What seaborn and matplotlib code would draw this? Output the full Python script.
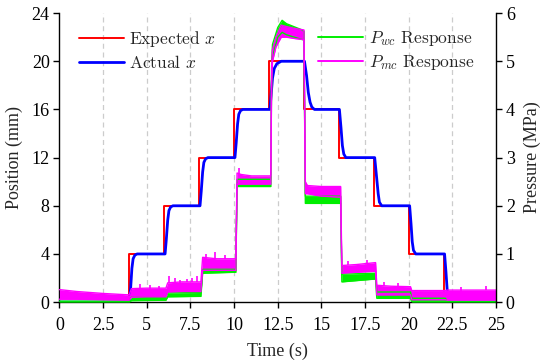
import matplotlib
matplotlib.use("Agg")
import matplotlib.pyplot as plt
import seaborn as sns
import pandas as pd
from matplotlib.lines import Line2D

# ---------------- data ----------------
exp_t = [0, 4, 6, 8, 10, 12, 14, 16, 18, 20, 22, 25]
exp_x = [0, 4, 8, 12, 16, 20, 16, 12, 8, 4, 0, 0]

act_t = [0, 4.0, 4.08, 4.15, 4.22, 4.32, 4.45,
         6.05, 6.12, 6.2, 6.27, 6.37, 6.5,
         8.05, 8.12, 8.2, 8.27, 8.37, 8.5,
         10.05, 10.12, 10.2, 10.27, 10.37, 10.5,
         12.05, 12.12, 12.2, 12.3, 12.45, 12.7,
         14.03, 14.15, 14.25, 14.35, 14.45, 14.6,
         16.03, 16.12, 16.2, 16.28, 16.4,
         18.05, 18.15, 18.25, 18.32, 18.45,
         20.05, 20.13, 20.2, 20.27, 20.4,
         22.05, 22.13, 22.2, 22.27, 22.4, 25]
act_x = [0, 0, 1.2, 2.8, 3.6, 3.9, 4,
         4, 5.2, 6.8, 7.6, 7.9, 8,
         8, 9.2, 10.8, 11.6, 11.9, 12,
         12, 13.2, 14.8, 15.6, 15.9, 16,
         16, 17.2, 18.6, 19.4, 19.8, 20,
         20, 18.8, 17.4, 16.6, 16.2, 16,
         16, 14.5, 13.0, 12.3, 12,
         12, 10.5, 9.0, 8.3, 8,
         8, 6.5, 5.0, 4.3, 4,
         4, 2.5, 1.0, 0.3, 0, 0]

# P_mc response envelope (MPa)
pmc_t = [0.0, 1.0, 2.5, 4.0, 4.12, 5.0, 6.1, 6.2, 7.0, 8.1, 8.2, 9.0, 10.1,
         10.17, 10.4, 11.0, 12.1, 12.15, 12.2, 12.4, 12.7, 13.0, 13.5, 14.0,
         14.08, 14.2, 15.0, 16.1, 16.17, 17.0, 18.1, 18.17, 19.0, 20.1, 20.17,
         21.0, 22.1, 22.2, 25.0]
pmc_lo = [0.06, 0.06, 0.05, 0.04, 0.10, 0.11, 0.11, 0.21, 0.22, 0.22, 0.66, 0.66, 0.66,
          2.45, 2.45, 2.45, 2.45, 4.60, 5.00, 5.30, 5.50, 5.50, 5.47, 5.45,
          2.25, 2.25, 2.20, 2.18, 0.60, 0.62, 0.64, 0.15, 0.15, 0.15, 0.05,
          0.05, 0.05, 0.04, 0.04]
pmc_hi = [0.26, 0.22, 0.18, 0.15, 0.28, 0.29, 0.29, 0.40, 0.42, 0.42, 0.93, 0.90, 0.90,
          2.68, 2.65, 2.62, 2.62, 4.90, 5.25, 5.50, 5.75, 5.72, 5.68, 5.65,
          2.50, 2.42, 2.40, 2.40, 0.76, 0.78, 0.82, 0.35, 0.33, 0.32, 0.24,
          0.24, 0.24, 0.25, 0.25]

# isolated noise spikes visible on the P_mc trace (time, base, peak) in MPa
spike_t = [4.6, 5.2, 5.7, 6.3, 6.6, 6.9, 7.3, 7.6, 7.9, 8.4, 8.9, 9.5, 10.3, 16.5, 17.6, 18.6, 19.4, 23.0, 24.4]
spike_lo = [0.28, 0.28, 0.28, 0.40, 0.40, 0.40, 0.41, 0.41, 0.41, 0.90, 0.90, 0.90, 2.62, 0.77, 0.80, 0.34, 0.33, 0.24, 0.25]
spike_hi = [0.38, 0.36, 0.34, 0.55, 0.50, 0.46, 0.48, 0.50, 0.55, 1.00, 1.05, 0.98, 2.78, 0.86, 0.88, 0.42, 0.40, 0.32, 0.33]

# P_wc response envelope (MPa)
pwc_t = [0.0, 4.0, 4.12, 6.1, 6.2, 8.1, 8.2, 10.1, 10.17, 12.1, 12.15, 12.2,
         12.5, 12.75, 13.0, 13.9, 14.0, 14.08, 16.1, 16.17, 18.1, 18.17, 20.1,
         20.17, 22.1, 22.2, 25.0]
pwc_lo = [0.0, 0.0, 0.03, 0.04, 0.11, 0.12, 0.60, 0.62, 2.40, 2.40, 4.70, 5.10,
          5.50, 5.60, 5.55, 5.45, 5.45, 2.05, 2.05, 0.42, 0.48, 0.08, 0.08,
          0.00, 0.00, 0.00, 0.00]
pwc_hi = [0.02, 0.02, 0.10, 0.10, 0.19, 0.20, 0.68, 0.68, 2.55, 2.55, 5.00, 5.35,
          5.70, 5.85, 5.78, 5.65, 5.62, 2.20, 2.20, 0.58, 0.60, 0.21, 0.21,
          0.08, 0.08, 0.02, 0.02]

x_ticks = [0, 2.5, 5, 7.5, 10, 12.5, 15, 17.5, 20, 22.5, 25]
x_ticklabels = ["0", "2.5", "5", "7.5", "10", "12.5", "15", "17.5", "20", "22.5", "25"]
pos_ticks = [0, 4, 8, 12, 16, 20, 24]
pres_ticks = [0, 1, 2, 3, 4, 5, 6]

# ---------------- style ----------------
sns.set_theme(style="ticks")
plt.rcParams["font.family"] = ["Liberation Serif", "DejaVu Serif"]
plt.rcParams["mathtext.fontset"] = "cm"

RED, BLUE, GREEN, MAG = "#ff0000", "#0000ff", "#00ee00", "#ff00ff"

fig = plt.figure(figsize=(5.5, 3.64), dpi=100)
ax = fig.add_axes([0.108, 0.170, 0.794, 0.794])
ax2 = ax.twinx()

# position lines
exp_df = pd.DataFrame({"t": exp_t, "x": exp_x})
act_df = pd.DataFrame({"t": act_t, "x": act_x})
sns.lineplot(data=exp_df, x="t", y="x", ax=ax, color=RED, lw=1.4,
             drawstyle="steps-post", zorder=3)
sns.lineplot(data=act_df, x="t", y="x", ax=ax, color=BLUE, lw=2.0, zorder=4)

# pressure bands
for tt, lo, hi, col in [(pwc_t, pwc_lo, pwc_hi, GREEN), (pmc_t, pmc_lo, pmc_hi, MAG)]:
    ax2.fill_between(tt, lo, hi, color=col, lw=0)
    d = pd.DataFrame({"t": tt, "lo": lo, "hi": hi})
    sns.lineplot(data=d, x="t", y="lo", ax=ax2, color=col, lw=1.0)
    sns.lineplot(data=d, x="t", y="hi", ax=ax2, color=col, lw=1.0)
ax2.vlines(spike_t, spike_lo, spike_hi, color=MAG, lw=1.2)

# axes
ax.set_xlim(0, 25)
ax.set_ylim(0, 24)
ax2.set_ylim(0, 6)
ax.set_xticks(x_ticks)
ax.set_xticklabels(x_ticklabels)
ax.set_yticks(pos_ticks)
ax2.set_yticks(pres_ticks)

for a in (ax, ax2):
    a.spines["top"].set_visible(False)
    for s in a.spines.values():
        s.set_linewidth(1.0)
        s.set_color("black")
    a.tick_params(direction="out", length=4, width=1.0, labelsize=13, colors="black", pad=3)
ax.tick_params(axis="x", pad=7)
ax.spines["right"].set_visible(False)
ax2.spines["left"].set_visible(False)
ax2.spines["bottom"].set_visible(False)

ax.grid(False)
ax2.grid(False)
for xv in x_ticks[1:-1]:
    ax.axvline(xv, color="#cccccc", lw=0.9, ls=(0, (4, 3)), zorder=0)

ax.set_xlabel("Time (s)", fontsize=13, labelpad=6)
ax.set_ylabel("Position (mm)", fontsize=13, labelpad=6)
ax2.set_ylabel("Pressure (MPa)", fontsize=13, labelpad=6)

# legends
leg_font = {"family": "cmr10", "size": 12.5}
h1 = [Line2D([], [], color=RED, lw=1.4), Line2D([], [], color=BLUE, lw=2.0)]
leg1 = ax.legend(h1, [r"Expected $x$", r"Actual $x$"], loc="upper left",
                 bbox_to_anchor=(0.024, 0.975), frameon=False, prop=leg_font,
                 handlelength=2.6, handletextpad=0.3, labelspacing=0.3, borderpad=0)
h2 = [Line2D([], [], color=GREEN, lw=1.4), Line2D([], [], color=MAG, lw=1.4)]
leg2 = ax2.legend(h2, [r"$P_{wc}$ Response", r"$P_{mc}$ Response"], loc="upper left",
                  bbox_to_anchor=(0.573, 0.975), frameon=False, prop=leg_font,
                  handlelength=2.6, handletextpad=0.3, labelspacing=0.3, borderpad=0)

fig.savefig("out.png", dpi=100)
